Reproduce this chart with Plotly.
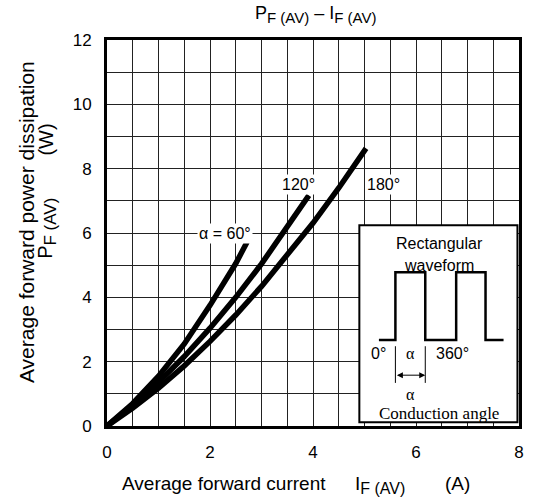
import plotly.graph_objects as go

# --- data ---
x60 = [0, 0.25, 0.5, 1.0, 1.5, 2.0, 2.5, 2.72]
y60 = [0, 0.33, 0.70, 1.55, 2.55, 3.75, 5.05, 5.72]

x120 = [0, 0.25, 0.5, 1.0, 1.5, 2.0, 2.5, 3.0, 3.5, 3.92]
y120 = [0, 0.31, 0.64, 1.36, 2.16, 3.04, 4.00, 5.04, 6.17, 7.17]

x180 = [0, 0.25, 0.5, 1.0, 1.5, 2.0, 2.5, 3.0, 3.5, 4.0, 4.5, 5.03]
y180 = [0, 0.27, 0.56, 1.18, 1.87, 2.63, 3.45, 4.34, 5.30, 6.31, 7.40, 8.63]

# inset rectangular waveform (schematic, in data units of the plot)
wave_x = [5.28, 5.60, 5.60, 6.18, 6.18, 6.78, 6.78, 7.35, 7.35, 7.70]
wave_y = [2.67, 2.67, 4.78, 4.78, 2.67, 2.67, 4.78, 4.78, 2.67, 2.67]

xticks = [0, 2, 4, 6, 8]
yticks = [0, 2, 4, 6, 8, 10, 12]

SANS = "Liberation Sans, Arial, sans-serif"
SERIF = "Liberation Serif, Times New Roman, serif"


def sub(s, px):
    return "<sub><span style='font-size:%dpx'>%s</span></sub>" % (px, s)


fig = go.Figure()
for xs, ys in [(x60, y60), (x120, y120), (x180, y180)]:
    fig.add_trace(go.Scatter(x=xs, y=ys, mode="lines",
                             line=dict(color="black", width=5.5),
                             showlegend=False, hoverinfo="skip"))

fig.add_trace(go.Scatter(x=wave_x, y=wave_y, mode="lines",
                         line=dict(color="black", width=2.5),
                         showlegend=False, hoverinfo="skip"))

# alpha marker lines
for xv in [wave_x[1], wave_x[3]]:
    fig.add_trace(go.Scatter(x=[xv, xv], y=[1.34, 2.48], mode="lines",
                             line=dict(color="black", width=1),
                             showlegend=False, hoverinfo="skip"))

# inset box
fig.add_shape(type="rect", x0=4.9, x1=7.97, y0=0.12, y1=6.24,
              line=dict(color="black", width=2), fillcolor="white",
              layer="between")

ann = []
# double arrow
ann.append(dict(x=wave_x[3], y=1.58, ax=wave_x[1], ay=1.58, xref="x", yref="y",
                axref="x", ayref="y", showarrow=True, arrowhead=2,
                arrowside="end+start", arrowwidth=1, arrowsize=1.2,
                arrowcolor="black", text=""))


def t(x, y, s, size=15, font=SANS, bg=None, xref="x", yref="y"):
    d = dict(x=x, y=y, xref=xref, yref=yref, text=s, showarrow=False,
             font=dict(family=font, size=size, color="black"),
             xanchor="center", yanchor="middle")
    if bg:
        d["bgcolor"] = bg
    ann.append(d)


t(2.30, 6.0, "α = 60°", 16, bg="white")
t(3.72, 7.52, "120°", 16, bg="white")
t(5.36, 7.52, "180°", 16, bg="white")

t(6.45, 5.66, "Rectangular", 16)
t(6.45, 5.00, "waveform", 16)
t(5.28, 2.24, "0°", 16)
t(5.89, 2.24, "α", 16, font=SERIF)
t(6.70, 2.24, "360°", 16)
t(5.89, 0.99, "α", 16, font=SERIF)
t(6.45, 0.39, "Conduction angle", 17, font=SERIF)

# titles
t(0.506, 1.065, "P" + sub("F (AV)", 15) + " – I" + sub("F (AV)", 15), 18,
  xref="paper", yref="paper")
t(0.283, -0.148, "Average forward current", 19, xref="paper", yref="paper")
t(0.662, -0.152, "I" + sub("F (AV)", 16), 19, xref="paper", yref="paper")
t(0.851, -0.148, "(A)", 19, xref="paper", yref="paper")

for a in [dict(x=-0.197, y=0.528, text="Average forward power dissipation", size=21),
          dict(x=-0.146, y=0.513, text="P" + sub("F (AV)", 17), size=20),
          dict(x=-0.149, y=0.741, text="(W)", size=20)]:
    sz = a.pop("size")
    a.update(xref="paper", yref="paper", showarrow=False, textangle=-90,
             font=dict(family=SANS, size=sz, color="black"),
             xanchor="center", yanchor="middle")
    ann.append(a)

fig.update_layout(
    width=535, height=499,
    margin=dict(l=107, r=11, t=40, b=73),
    paper_bgcolor="white", plot_bgcolor="white",
    annotations=ann,
    font=dict(family=SANS, size=16, color="black"),
)
fig.update_xaxes(range=[0, 8], tickvals=xticks, ticktext=[str(v) for v in xticks],
                 showgrid=True, gridcolor="#222", gridwidth=1,
                 minor=dict(dtick=0.5, tick0=0, showgrid=True, gridcolor="#222", gridwidth=1),
                 zeroline=False, showline=True, linecolor="black", linewidth=3, mirror=True,
                 ticks="", ticklabelstandoff=9, tickfont=dict(size=17))
fig.update_yaxes(range=[0, 12], tickvals=yticks, ticktext=[str(v) for v in yticks],
                 showgrid=True, gridcolor="#222", gridwidth=1,
                 minor=dict(dtick=1, tick0=0, showgrid=True, gridcolor="#222", gridwidth=1),
                 zeroline=False, showline=True, linecolor="black", linewidth=3, mirror=True,
                 ticks="", ticklabelstandoff=9, tickfont=dict(size=17))

fig.write_html("out.html", config={"displayModeBar": False},
               post_script="document.body.style.margin='0';document.body.style.overflow='hidden';")
